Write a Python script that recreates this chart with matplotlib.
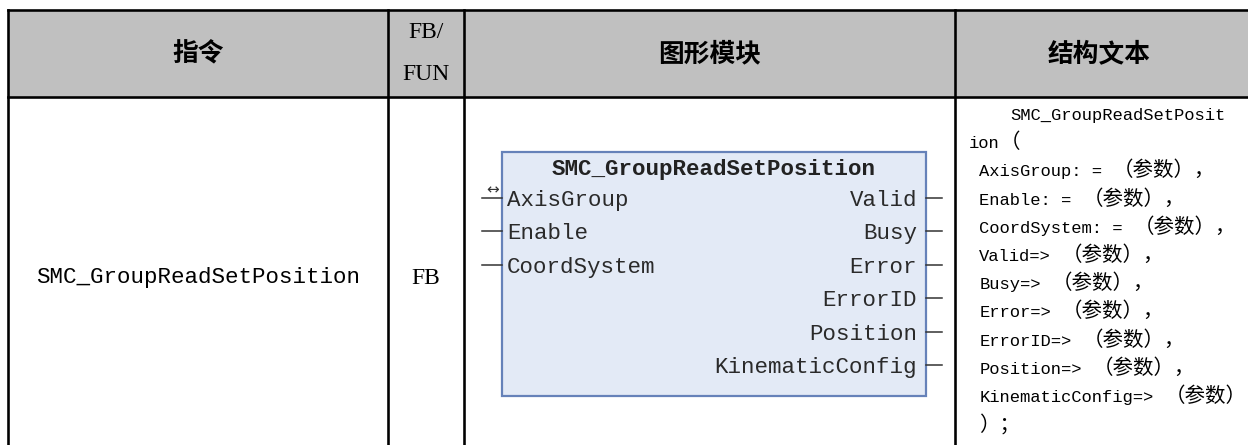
import matplotlib
matplotlib.use("Agg")
import matplotlib.pyplot as plt
from matplotlib.patches import Rectangle

# table content
headers = ['指令', 'FB/\nFUN', '图形模块', '结构文本']
instruction = 'SMC_GroupReadSetPosition'
kind = 'FB'
block_title = 'SMC_GroupReadSetPosition'
inputs = ['AxisGroup', 'Enable', 'CoordSystem']
outputs = ['Valid', 'Busy', 'Error', 'ErrorID', 'Position', 'KinematicConfig']
st_lines = [
    '    SMC_GroupReadSetPosit',
    'ion（',
    ' AxisGroup: = （参数），',
    ' Enable: = （参数），',
    ' CoordSystem: = （参数），',
    ' Valid=> （参数），',
    ' Busy=> （参数），',
    ' Error=> （参数），',
    ' ErrorID=> （参数），',
    ' Position=> （参数），',
    ' KinematicConfig=> （参数）',
    ' ）；',
]

DPI = 100
W, H = 1248, 445
fig = plt.figure(figsize=(W / DPI, H / DPI), dpi=DPI)
ax = fig.add_axes([0, 0, 1, 1])
ax.set_xlim(0, W)
ax.set_ylim(H, 0)
ax.axis('off')

px2pt = 72 / DPI
MONO = 'Liberation Mono'
CJK = 'Noto Sans CJK SC'
SERIF = 'Liberation Serif'

# grid geometry (pixels)
left, right = 8, 1256
top, head_bot = 10, 97
cols = [left, 388, 464, 955, right]
lw = 2.6 * px2pt

ax.add_patch(Rectangle((left, top), right - left, head_bot - top,
                       fc='#c0c0c0', ec='none', zorder=0))
for y in (top, head_bot):
    ax.plot([left, right], [y, y], color='black', lw=lw, solid_capstyle='projecting')
for x in cols:
    ax.plot([x, x], [top, H + 20], color='black', lw=lw, solid_capstyle='projecting')

# header
hy = (top + head_bot) / 2
centers = [(cols[i] + cols[i + 1]) / 2 for i in range(4)]
for i, h in enumerate(headers):
    if i == 1:
        a, b = h.split('\n')
        ax.text(centers[i], 32, a, ha='center', va='center', family=SERIF, fontsize=17)
        ax.text(centers[i], 75, b, ha='center', va='center', family=SERIF, fontsize=17)
    else:
        ax.text(centers[i] + (-6 if i == 3 else 0), hy, h, ha='center', va='center',
                family=CJK, fontsize=18.5, fontweight='bold')

# body left columns
ax.text(centers[0], 278, instruction, ha='center', va='center',
        family=MONO, fontsize=13.5 / 0.6 * px2pt)
ax.text(centers[1], 278, kind, ha='center', va='center', family=SERIF, fontsize=17)

# function block
bx0, bx1, by0, by1 = 502, 926, 152, 396
ax.add_patch(Rectangle((bx0, by0), bx1 - bx0, by1 - by0,
                       fc='#e3eaf6', ec='#6682b9', lw=1.6))
fs_blk = 13.5 / 0.6 * px2pt
ax.text((bx0 + bx1) / 2, 170, block_title, ha='center', va='center',
        family=MONO, fontsize=fs_blk, fontweight='bold', color='#222222')
pin0, dpin = 198, 33.4
for i, name in enumerate(inputs):
    y = pin0 + i * dpin
    ax.plot([482, bx0], [y, y], color='#333333', lw=1.1)
    ax.text(bx0 + 5, y + 8, name, ha='left', va='baseline',
            family=MONO, fontsize=fs_blk, color='#2a2a2a')
for i, name in enumerate(outputs):
    y = pin0 + i * dpin
    ax.plot([bx1, 942], [y, y], color='#333333', lw=1.1)
    ax.text(bx1 - 9, y + 8, name, ha='right', va='baseline',
            family=MONO, fontsize=fs_blk, color='#2a2a2a')
ax.text(493, 190, '↔', ha='center', va='center', family='DejaVu Sans',
        fontsize=11, color='#333333')

# structured text column, latin and CJK runs placed separately
LAT_PX, CJK_PX = 10.3, 20.5


def mixed(x, y, s):
    runs = []
    for ch in s:
        wide = ord(ch) > 127
        if runs and runs[-1][1] == wide:
            runs[-1][0] += ch
        else:
            runs.append([ch, wide])
    for seg, wide in runs:
        if wide:
            ax.text(x, y, seg, ha='left', va='baseline', family=CJK,
                    fontsize=CJK_PX * px2pt, color='black')
            x += len(seg) * CJK_PX
        else:
            n = len(seg) - len(seg.lstrip(' '))
            body = seg.strip(' ')
            if body:
                ax.text(x + n * LAT_PX, y, body, ha='left', va='baseline',
                        family=MONO, fontsize=LAT_PX / 0.6 * px2pt, color='black')
            x += len(seg) * LAT_PX


y0, dy = 120, 28.2
for i, line in enumerate(st_lines):
    mixed(969, y0 + i * dy, line)

fig.savefig('out.png', dpi=DPI, facecolor='white')
